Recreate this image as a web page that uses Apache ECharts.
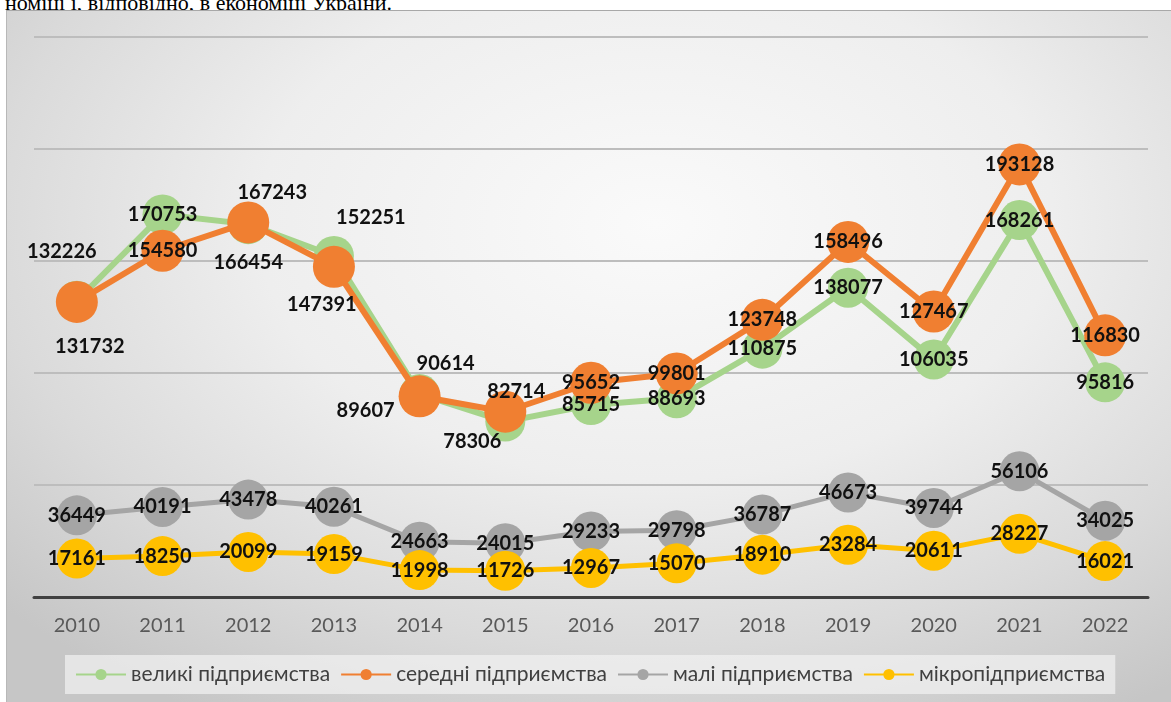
<!DOCTYPE html>
<html>
<head>
<meta charset="utf-8">
<script src="https://cdn.jsdelivr.net/npm/echarts@6/dist/echarts.min.js"></script>
<style>
  html, body { margin: 0; padding: 0; background: #fff; overflow: hidden; }
  .pageText {
    position: absolute; right: 779px; top: -8px;
    font-family: "Liberation Serif", serif; font-size: 22px; line-height: 22px;
    white-space: nowrap; color: #000;
  }
  .frame {
    position: absolute; left: 6px; top: 10px; width: 1180px; height: 710px;
    border-top: 1px solid #a8a8a8; border-left: 1px solid #b8b8b8;
    background: radial-gradient(ellipse 75% 80% at 55% 30%, #fafafa 0%, #eeeeee 45%, #dadada 75%, #c6c6c6 100%);
  }
  #chart { position: absolute; left: 0; top: 0; width: 1171px; height: 702px; }
</style>
</head>
<body>
<div class="pageText">номіці і, відповідно, в економіці України.</div>
<div class="frame"></div>
<div id="chart"></div>
<script>
// дані
var years = ['2010','2011','2012','2013','2014','2015','2016','2017','2018','2019','2020','2021','2022'];
var names = ['великі підприємства', 'середні підприємства', 'малі підприємства', 'мікропідприємства'];
var large  = [132226, 170753, 166454, 152251, 90614, 78306, 85715, 88693, 110875, 138077, 106035, 168261, 95816];
var medium = [131732, 154580, 167243, 147391, 89607, 82714, 95652, 99801, 123748, 158496, 127467, 193128, 116830];
var small  = [36449, 40191, 43478, 40261, 24663, 24015, 29233, 29798, 36787, 46673, 39744, 56106, 34025];
var micro  = [17161, 18250, 20099, 19159, 11998, 11726, 12967, 15070, 18910, 23284, 20611, 28227, 16021];
var colors = ['#a6d48b', '#f07f31', '#a5a5a5', '#ffc000'];
var widths = [6, 6, 5, 5];

// зсуви підписів (як у Excel) для окремих точок: індекс -> [dx, dy]
var labelShift = [
  {0: [-15, -49], 2: [0, 38], 3: [37, -38], 4: [26, -30], 5: [-33, 20]},
  {0: [13, 45], 2: [24, -30], 3: [-12, 38], 4: [-54, 14], 5: [11, -20]},
  {},
  {}
];

var allData = [large, medium, small, micro];
var series = [];

allData.forEach(function (arr, i) {
  series.push({
    name: names[i],
    type: 'line',
    data: arr,
    symbol: 'circle',
    symbolSize: i === 1 ? 42 : 40,
    z: 2 + i,
    color: colors[i],
    itemStyle: { color: colors[i] },
    lineStyle: { color: colors[i], width: widths[i] },
    label: { show: false },
    emphasis: { disabled: true },
    animation: false
  });
});

// окремий шар з підписами, щоб вони були поверх усіх маркерів
allData.forEach(function (arr, i) {
  series.push({
    name: names[i],
    type: 'line',
    symbol: 'circle',
    symbolSize: 40,
    z: 20,
    silent: true,
    itemStyle: { color: 'rgba(0,0,0,0)' },
    lineStyle: { color: 'rgba(0,0,0,0)', width: 0 },
    emphasis: { disabled: true },
    animation: false,
    data: arr.map(function (v, j) {
      var sh = labelShift[i][j] || [0, 0];
      return { value: v, label: { offset: sh } };
    }),
    label: {
      show: true,
      position: 'inside',
      color: '#111',
      fontFamily: 'Lato',
      fontWeight: 'bold',
      fontSize: 20
    }
  });
});

var myChart = echarts.init(document.getElementById('chart'), null, { renderer: 'canvas' });
myChart.setOption({
  backgroundColor: 'transparent',
  animation: false,
  grid: {
    left: 34, right: 23, top: 37, bottom: 105,
    containLabel: false,
    outerBoundsMode: 'none'
  },
  legend: {
    data: names,
    left: 65, top: 655,
    padding: [9, 10, 9, 10],
    backgroundColor: 'rgba(242,242,242,0.7)',
    itemWidth: 50, itemHeight: 14, itemGap: 10,
    textStyle: { color: '#404040', fontFamily: 'Lato', fontSize: 21 }
  },
  xAxis: {
    type: 'category',
    data: years,
    boundaryGap: true,
    axisLine: { show: true, lineStyle: { color: '#404040', width: 3 } },
    axisTick: { show: false },
    axisLabel: { color: '#595959', fontFamily: 'Lato', fontSize: 20, margin: 19 },
    splitLine: { show: false }
  },
  yAxis: {
    type: 'value',
    min: 0, max: 250000, interval: 50000,
    axisLine: { show: false },
    axisTick: { show: false },
    axisLabel: { show: false },
    splitLine: { show: true, lineStyle: { color: '#bdbdbd', width: 2 } }
  },
  series: series
});
</script>
</body>
</html>
